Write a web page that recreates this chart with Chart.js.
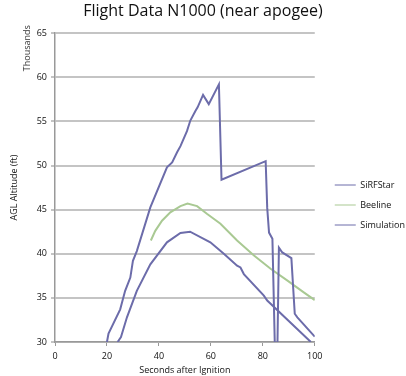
<!DOCTYPE html>
<html>
<head>
<meta charset="utf-8">
<script src="https://cdn.jsdelivr.net/npm/chart.js@4/dist/chart.umd.min.js"></script>
<style>
html,body{margin:0;padding:0;background:#fff;}
#wrap{width:406px;height:376px;position:relative;}
</style>
</head>
<body>
<div id="wrap"><canvas id="c"></canvas></div>
<script>
const titleText = "Flight Data N1000 (near apogee)";
const xTitle = "Seconds after Ignition";
const yTitle = "AGL Altitude (ft)";
const unitsLabel = "Thousands";
const seriesNames = ["SiRFStar", "Beeline", "Simulation"];

const sirfT   = [20, 20.6, 25.1, 27, 29, 30, 31.5, 36.7, 43.1, 45.1, 47, 48.3, 50.8, 52.1, 54.1, 54.9, 57, 59.2, 63.1, 64.1, 81.1, 81.7, 82.4, 83.7, 84.6, 84.8, 85.5, 86.2, 87.5, 91, 92.3, 93.3, 100];
const sirfAlt = [30, 30.95, 33.7, 35.8, 37.3, 39.2, 40.3, 45.25, 49.8, 50.35, 51.5, 52.2, 53.9, 55.1, 56.2, 56.6, 58.0, 56.96, 59.2, 48.4, 50.5, 45.2, 42.4, 41.7, 30, 27, 27, 40.7, 40.15, 39.5, 33.2, 32.8, 30.6];

const beeT   = [36.9, 38.6, 41.2, 44.4, 48.3, 51, 54.7, 58.6, 63.7, 70.1, 76.6, 83, 89.5, 95.9, 100];
const beeAlt = [41.5, 42.6, 43.75, 44.7, 45.4, 45.7, 45.4, 44.5, 43.4, 41.5, 39.8, 38.3, 36.95, 35.6, 34.75];

const simT   = [24.1, 25.4, 27.7, 31.5, 36.7, 43.1, 48.3, 52, 59.8, 65, 70.1, 71.4, 72.7, 80.4, 81.7, 98.5];
const simAlt = [30, 30.55, 32.8, 35.8, 38.8, 41.3, 42.35, 42.5, 41.3, 40, 38.65, 38.45, 37.7, 35.25, 34.7, 30];

const xTicks = [0, 20, 40, 60, 80, 100];
const yTicks = [30, 35, 40, 45, 50, 55, 60, 65];

const pts = (t, a) => t.map((v, i) => ({x: v, y: a[i]}));
const FONT = "'Open Sans', 'Liberation Sans', sans-serif";
const BLUE = "#6c6caa";
const GREEN = "#a9c993";
const GRID = "#c4c4c4";

const unitsPlugin = {
  id: 'units',
  afterLayout(chart) {
    const lg = chart.legend;
    if (lg) {
      lg.left += 9; lg.right += 9;
      lg.top += 17; lg.bottom += 17;
    }
  },
  afterDraw(chart) {
    const ctx = chart.ctx;
    const ys = chart.scales.y;
    ctx.save();
    ctx.translate(27, ys.top + 15);
    ctx.rotate(-Math.PI / 2);
    ctx.font = "9px " + FONT;
    ctx.fillStyle = "#333";
    ctx.textAlign = "center";
    ctx.textBaseline = "middle";
    ctx.fillText(unitsLabel, 0, 0);
    ctx.restore();
  }
};

new Chart(document.getElementById('c'), {
  type: 'line',
  data: {
    datasets: [
      {label: seriesNames[0], data: pts(sirfT, sirfAlt), borderColor: BLUE, backgroundColor: BLUE},
      {label: seriesNames[1], data: pts(beeT, beeAlt), borderColor: GREEN, backgroundColor: GREEN},
      {label: seriesNames[2], data: pts(simT, simAlt), borderColor: BLUE, backgroundColor: BLUE}
    ]
  },
  options: {
    responsive: true,
    maintainAspectRatio: false,
    devicePixelRatio: 1,
    animation: false,
    layout: {padding: {left: 0, right: 0, top: 0, bottom: 0}},
    elements: {
      line: {borderWidth: 2, tension: 0},
      point: {radius: 0}
    },
    plugins: {
      title: {
        display: true, text: titleText, color: "#111",
        font: {family: FONT, size: 16, weight: 'normal'},
        padding: {top: 2, bottom: 12}
      },
      legend: {
        position: 'right',
        labels: {
          usePointStyle: true, pointStyle: 'line', pointStyleWidth: 21,
          boxHeight: 9, padding: 11,
          color: "#111",
          font: {family: FONT, size: 9}
        }
      },
      tooltip: {enabled: false}
    },
    scales: {
      x: {
        type: 'linear', min: 0, max: 100,
        afterBuildTicks: s => { s.ticks = xTicks.map(v => ({value: v})); },
        afterFit: s => { s.height = 34; },
        ticks: {color: "#111", font: {family: FONT, size: 9}, padding: 5, maxRotation: 0},
        grid: {drawOnChartArea: false, drawTicks: true, tickLength: 4, color: "#999", lineWidth: 1},
        border: {display: true, color: "#999", width: 1.5},
        title: {display: true, text: xTitle, color: "#111", font: {family: FONT, size: 9}, padding: {top: 2, bottom: 0}}
      },
      y: {
        type: 'linear', min: 30, max: 65,
        afterBuildTicks: s => { s.ticks = yTicks.map(v => ({value: v})); },
        afterFit: s => { s.width = 55; },
        ticks: {color: "#111", font: {family: FONT, size: 9}, padding: 4},
        grid: {color: GRID, lineWidth: 2, drawTicks: true, tickLength: 4},
        border: {display: true, color: "#999", width: 1.5},
        title: {display: true, text: yTitle, color: "#111", font: {family: FONT, size: 9}, padding: {top: 9, bottom: 0}}
      }
    }
  },
  plugins: [unitsPlugin]
});
</script>
</body>
</html>
